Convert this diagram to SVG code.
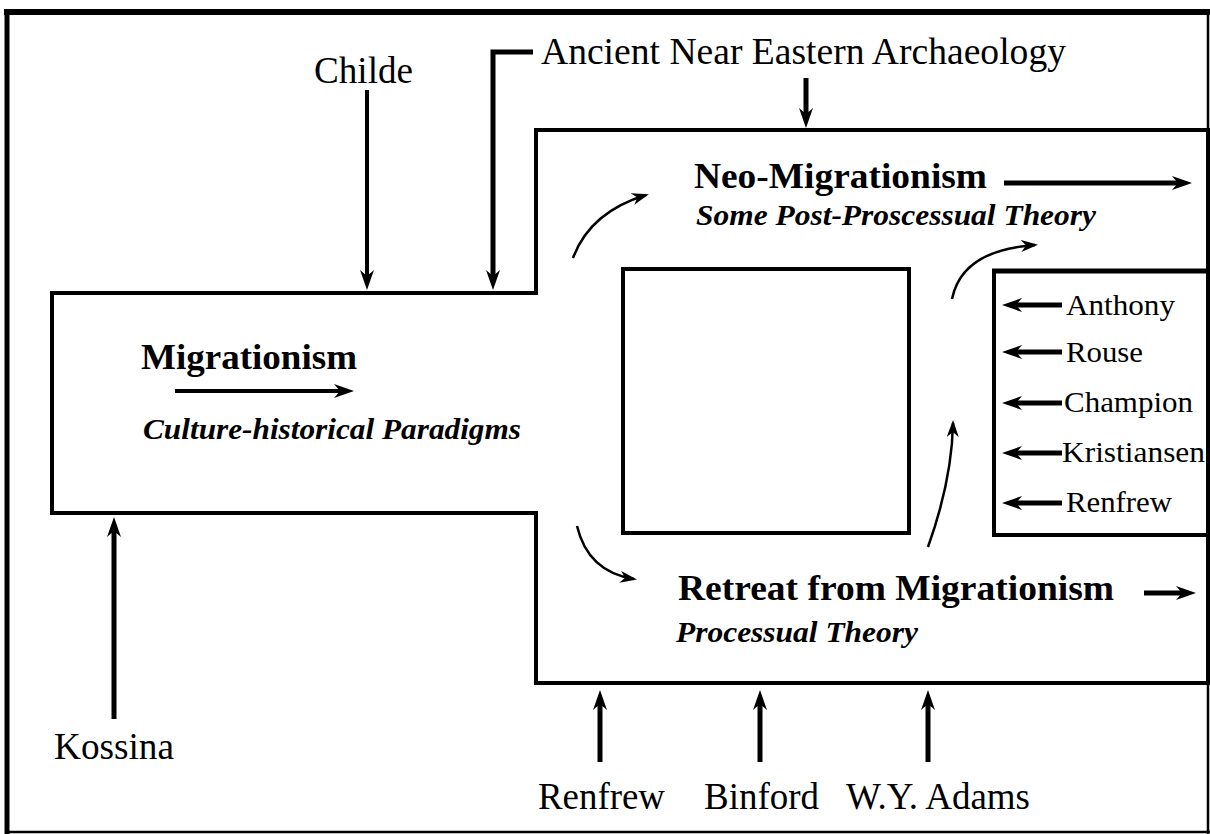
<svg xmlns="http://www.w3.org/2000/svg" width="1210" height="834" viewBox="0 0 1210 834">
<style>
  .reg { font-family: "Liberation Serif", "Times New Roman", serif; fill: #000; }
  .big { font-size: 37px; }
  .name { font-size: 29px; }
  .title { font-family: "Liberation Serif", "Times New Roman", serif; font-weight: bold; font-size: 36px; fill: #000; }
  .sub { font-family: "Liberation Serif", "Times New Roman", serif; font-weight: bold; font-style: italic; font-size: 29px; fill: #000; }
  .box { fill: none; stroke: #000; stroke-width: 4; }
  .thick { fill: none; stroke: #000; stroke-width: 5; }
  .med { fill: none; stroke: #000; stroke-width: 4; }
  .thin { fill: none; stroke: #000; stroke-width: 2.5; }
</style>
<defs>
  <marker id="ah" markerUnits="userSpaceOnUse" markerWidth="24" markerHeight="18" refX="12" refY="8" orient="auto">
    <path d="M0,1 L20,8 L0,15 L6,8 Z" fill="#000"/>
  </marker>
  <marker id="ahs" markerUnits="userSpaceOnUse" markerWidth="20" markerHeight="14" refX="14" refY="6" orient="auto">
    <path d="M0,0 L17,6 L0,12 L5,6 Z" fill="#000"/>
  </marker>
</defs>

<g id="frame">
  <line x1="4" y1="12" x2="1210" y2="12" stroke="#000" stroke-width="6"/>
  <line x1="7" y1="10" x2="7" y2="834" stroke="#000" stroke-width="5"/>
  <line x1="1208" y1="10" x2="1208" y2="834" stroke="#000" stroke-width="2.5"/>
  <line x1="5" y1="832" x2="1210" y2="832" stroke="#000" stroke-width="2.5"/>
</g>

<g id="main-shape">
  <path class="box" d="M52,293 H536 V130 H1208 V683 H536 V513 H52 Z"/>
</g>

<g id="inner-square">
  <rect class="box" x="623" y="269" width="286" height="264"/>
</g>

<g id="names-box">
  <rect class="box" x="994" y="271" width="214" height="264"/>
  <line x1="992" y1="271" x2="1210" y2="271" stroke="#000" stroke-width="5"/>
</g>

<g id="migrationism">
  <text class="title" x="141" y="369" textLength="216" lengthAdjust="spacingAndGlyphs">Migrationism</text>
  <text class="sub" x="143" y="439" textLength="378" lengthAdjust="spacingAndGlyphs">Culture-historical Paradigms</text>
</g>

<g id="neo-migrationism">
  <text class="title" x="694" y="188" textLength="293" lengthAdjust="spacingAndGlyphs">Neo-Migrationism</text>
  <text class="sub" x="696" y="225" textLength="400" lengthAdjust="spacingAndGlyphs">Some Post-Proscessual Theory</text>
</g>

<g id="retreat">
  <text class="title" x="678" y="600" textLength="436" lengthAdjust="spacingAndGlyphs">Retreat from Migrationism</text>
  <text class="sub" x="676" y="642" textLength="242" lengthAdjust="spacingAndGlyphs">Processual Theory</text>
</g>

<g id="childe"><text class="reg big" x="314" y="83" textLength="99" lengthAdjust="spacingAndGlyphs">Childe</text></g>
<g id="ancient"><text class="reg big" x="541" y="64" textLength="525" lengthAdjust="spacingAndGlyphs">Ancient Near Eastern Archaeology</text></g>
<g id="kossina"><text class="reg big" x="54" y="759" textLength="120" lengthAdjust="spacingAndGlyphs">Kossina</text></g>
<g id="renfrew-bottom"><text class="reg big" x="538" y="809" textLength="127" lengthAdjust="spacingAndGlyphs">Renfrew</text></g>
<g id="binford"><text class="reg big" x="704" y="809" textLength="115" lengthAdjust="spacingAndGlyphs">Binford</text></g>
<g id="adams"><text class="reg big" x="846" y="809" textLength="184" lengthAdjust="spacingAndGlyphs">W.Y. Adams</text></g>

<g id="anthony"><text class="reg name" x="1066" y="315" textLength="109" lengthAdjust="spacingAndGlyphs">Anthony</text></g>
<g id="rouse"><text class="reg name" x="1066" y="362" textLength="77" lengthAdjust="spacingAndGlyphs">Rouse</text></g>
<g id="champion"><text class="reg name" x="1064" y="412" textLength="129" lengthAdjust="spacingAndGlyphs">Champion</text></g>
<g id="kristiansen"><text class="reg name" x="1062" y="462" textLength="143" lengthAdjust="spacingAndGlyphs">Kristiansen</text></g>
<g id="renfrew-right"><text class="reg name" x="1066" y="512" textLength="106" lengthAdjust="spacingAndGlyphs">Renfrew</text></g>

<g id="connectors">
  <path class="med" d="M367,90 V282" marker-end="url(#ah)"/>
  <path class="thick" d="M533,52 H493 V282" marker-end="url(#ah)"/>
  <path class="thick" d="M806,78 V120" marker-end="url(#ah)"/>
  <path class="thick" d="M114,719 V525" marker-end="url(#ah)"/>
  <path class="thick" d="M600,762 V698" marker-end="url(#ah)"/>
  <path class="thick" d="M760,762 V698" marker-end="url(#ah)"/>
  <path class="thick" d="M928,762 V698" marker-end="url(#ah)"/>
  <path class="med" d="M175,391 H346" marker-end="url(#ah)"/>
  <path class="thick" d="M1004,183 H1184" marker-end="url(#ah)"/>
  <path class="thick" d="M1144,593 H1188" marker-end="url(#ah)"/>
  <path class="thick" d="M1062,305 H1010" marker-end="url(#ah)"/>
  <path class="thick" d="M1062,352 H1010" marker-end="url(#ah)"/>
  <path class="thick" d="M1062,403 H1010" marker-end="url(#ah)"/>
  <path class="thick" d="M1062,453 H1010" marker-end="url(#ah)"/>
  <path class="thick" d="M1062,503 H1010" marker-end="url(#ah)"/>
  <path class="thin" d="M573,258 Q590,212 646,195" marker-end="url(#ahs)"/>
  <path class="thin" d="M952,299 Q962,250 1035,245" marker-end="url(#ahs)"/>
  <path class="thin" d="M928,547 Q952,480 953,423" marker-end="url(#ahs)"/>
  <path class="thin" d="M577,526 Q588,572 634,579" marker-end="url(#ahs)"/>
</g>
</svg>
